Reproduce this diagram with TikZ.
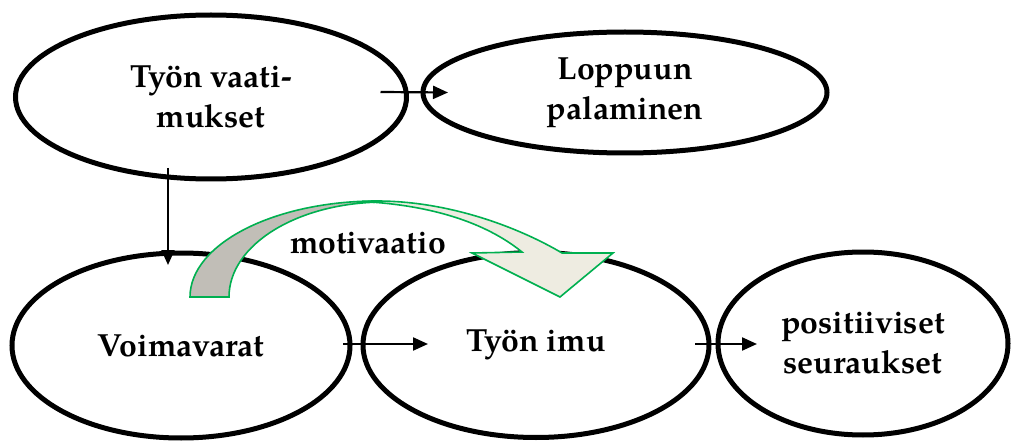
\documentclass[tikz,border=0pt]{standalone}
\usepackage{fontspec}
\setmainfont{TeX Gyre Pagella}
\usetikzlibrary{shapes.geometric,arrows.meta,calc}

\definecolor{ribbongreen}{RGB}{0,176,80}
\definecolor{ribbonback}{RGB}{193,190,183}
\definecolor{ribbonfront}{RGB}{238,236,225}

\tikzset{
  oval/.style={draw=black, line width=5pt, ellipse, inner sep=0pt, outer sep=0pt,
    align=center, font=\fontsize{32}{40}\selectfont\bfseries},
  link/.style={draw=black, line width=2.2pt, -{Triangle[length=15pt,width=13pt]}},
  ribbon/.style={draw=ribbongreen, line width=1.6pt, line join=miter},
  lbl/.style={font=\fontsize{32}{40}\selectfont\bfseries, inner sep=0pt}
}

\begin{document}
\begin{tikzpicture}[x=1pt, y=-1pt]
  \useasboundingbox (0,0) rectangle (1013,441);

  % the five ovals
  \node[oval, minimum width=391pt, minimum height=164pt] (vaat) at (211,97)
    {Työn vaati-\\mukset};
  \node[oval, minimum width=404pt, minimum height=121pt] (lopp) at (625,92.5)
    {Loppuun\\palaminen};
  \node[oval, minimum width=338pt, minimum height=185pt] (voim) at (181,345.5)
    {Voimavarat};
  \node[oval, minimum width=346pt, minimum height=185pt] (imu) at (536,345)
    {Työn imu};
  \node[oval, minimum width=290pt, minimum height=183pt] (seur) at (863,343.5)
    {positiiviset\\seuraukset};

  % straight connectors
  \draw[link] ([xshift=-26pt,yshift=5pt]vaat.east) -- ([xshift=25pt]lopp.west);
  \draw[link] ([xshift=-43pt,yshift=11pt]vaat.south) -- ([xshift=-13pt,yshift=-12pt]voim.north);
  \draw[link] ([xshift=-7pt,yshift=1.5pt]voim.east) -- ([xshift=65pt,yshift=1pt]imu.west);
  \draw[link] ([xshift=-14pt,yshift=1pt]imu.east) -- ([xshift=39pt,yshift=-0.5pt]seur.west);

  % curved ribbon arrow: back face rising from the left
  \path[ribbon, fill=ribbonback]
    (190,297) .. controls (190,244) and (274,201) .. (377,201)
    -- (385,202) .. controls (298,202) and (229,244.5) .. (229,297) -- cycle;
  % front face coming down into the arrow head
  \path[ribbon, fill=ribbonfront]
    (362,201.5) -- (377,201) .. controls (450,201) and (520,228) .. (562,253)
    -- (613,253) -- (560,297) -- (472,253) -- (522,252)
    .. controls (485,222) and (430,205) .. (362,201.5) -- cycle;

  \node[lbl, anchor=base] (moti) at (368,254) {motivaatio};
\end{tikzpicture}
\end{document}
